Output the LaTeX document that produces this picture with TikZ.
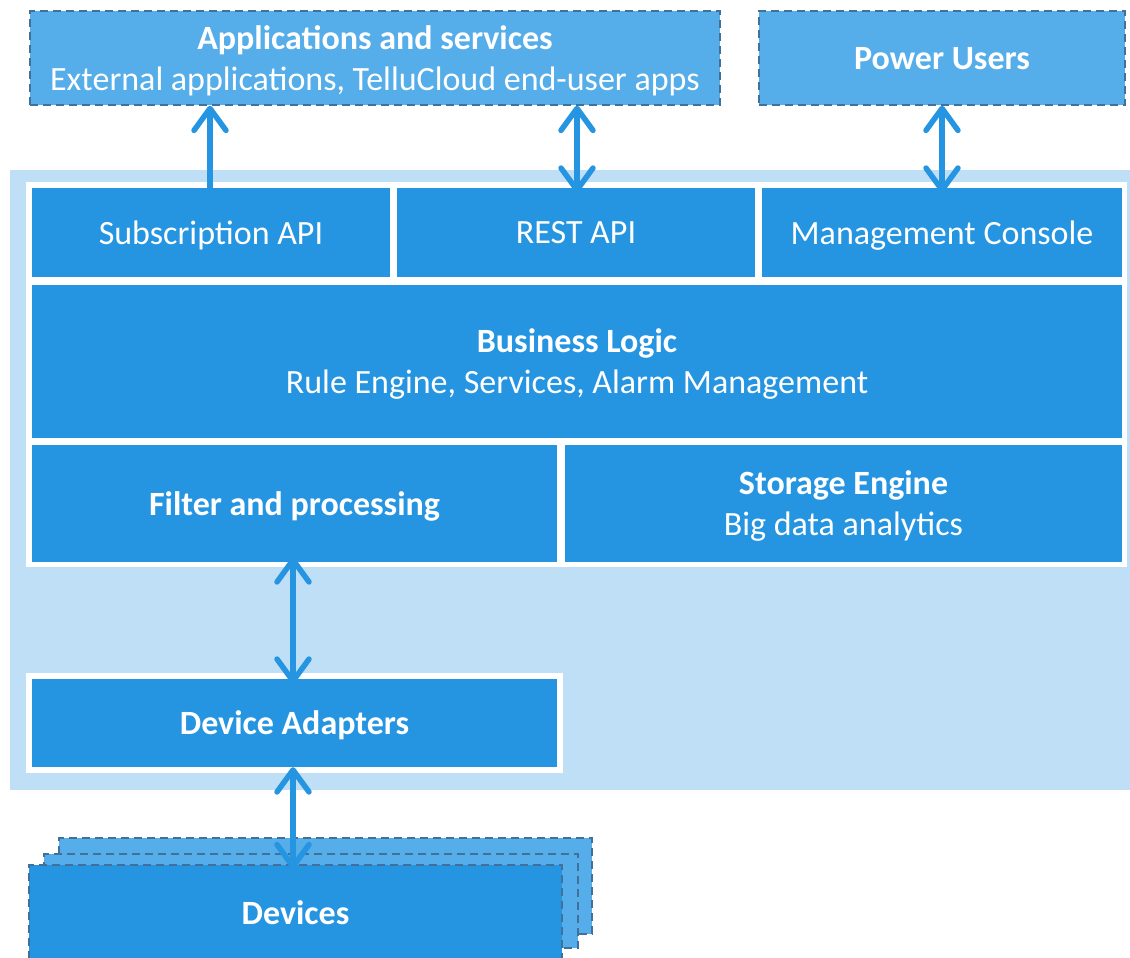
\documentclass[tikz,border=0pt]{standalone}
\usepackage{fontspec}
\setmainfont{Carlito}
\usetikzlibrary{arrows.meta}
\definecolor{mainblue}{HTML}{2595E2}
\definecolor{lightblue}{HTML}{55ADE9}
\definecolor{bgblue}{HTML}{BEDFF6}
\definecolor{dashgray}{HTML}{41709A}
\begin{document}
\begin{tikzpicture}[x=1pt,y=-1pt,
  every node/.style={text=white, inner sep=0pt, align=center},
  txt/.style={font=\fontsize{34}{41}\selectfont, text depth=0pt},
  layer/.style={fill=mainblue, txt},
  outer/.style={fill=lightblue, draw=dashgray, line width=1.3pt, dash pattern=on 8pt off 5pt, txt},
  tip/.tip={Straight Barb[length=22pt,width=32pt,line cap=round,line join=round]},
  arr/.style={draw=mainblue, line width=5.5pt, line cap=round, -tip},
  darr/.style={arr, tip-tip}]
\useasboundingbox (0,0) rectangle (1130,958);
\clip (0,0) rectangle (1130,958);
% background
\fill[bgblue] (10,170) rectangle (1130,790);
\fill[white] (26,182) rectangle (1127,567);
\fill[white] (26,673) rectangle (563,773);
% layers
\node[layer, minimum width=358pt, minimum height=89pt] (sub) at (211,232.5) {Subscription API};
\node[layer, minimum width=358pt, minimum height=89pt] (rest) at (576,232.5) {REST API};
\node[layer, minimum width=360pt, minimum height=89pt] (mgmt) at (942,232.5) {Management Console};
\node[layer, minimum width=1090pt, minimum height=153pt] (biz) at (577,361.5) {\textbf{Business Logic}\\Rule Engine, Services, Alarm Management};
\node[layer, minimum width=525pt, minimum height=117pt] (filter) at (294.5,503.5) {\textbf{Filter and processing}};
\node[layer, minimum width=557pt, minimum height=117pt] (storage) at (843.5,503.5) {\textbf{Storage Engine}\\Big data analytics};
\node[layer, minimum width=525pt, minimum height=88pt] (adapt) at (294.5,723) {\textbf{Device Adapters}};
% top boxes
\node[outer, minimum width=690pt, minimum height=94pt] (apps) at (375,58) {\textbf{Applications and services}\\External applications, TelluCloud end-user apps};
\node[outer, minimum width=366pt, minimum height=94pt] (power) at (942,58) {\textbf{Power Users}};
% devices stack
\node[outer, minimum width=533pt, minimum height=96pt] (dev3) at (325.5,886) {};
\node[outer, minimum width=534pt, minimum height=94pt] (dev2) at (311,901) {};
\node[outer, fill=mainblue, minimum width=533pt, minimum height=96pt] (dev) at (295.5,913) {\textbf{Devices}};
% arrows
\draw[arr, shorten <=-5pt] (sub.north -| 210,0) -- (apps.south -| 210,0);
\draw[darr, shorten <=-5pt] (rest.north -| 577,0) -- (apps.south -| 577,0);
\draw[darr, shorten <=-5pt] (mgmt.north) -- (power.south);
\draw[darr, shorten <=-5pt, shorten >=-5pt] (adapt.north -| 293,0) -- (filter.south -| 293,0);
\draw[darr, shorten <=-5pt] (dev.north -| 293,0) -- (adapt.south -| 293,0);
\end{tikzpicture}
\end{document}
